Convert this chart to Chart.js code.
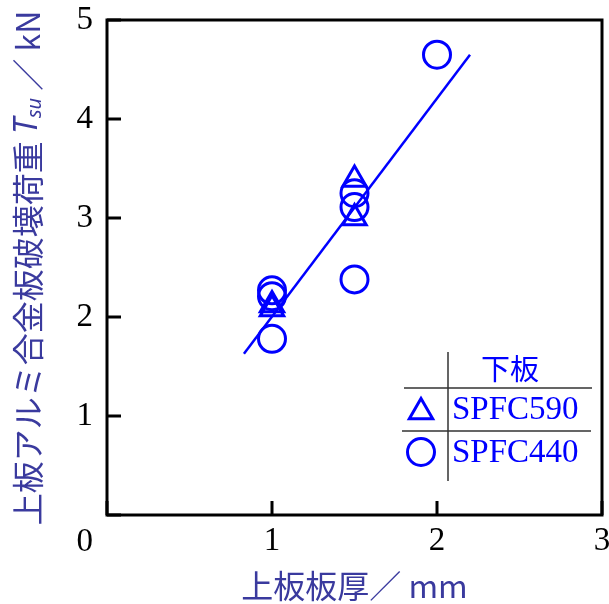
<!DOCTYPE html>
<html><head><meta charset="utf-8">
<script src="https://cdn.jsdelivr.net/npm/chart.js@4/dist/chart.umd.min.js"></script>
<style>html,body{margin:0;padding:0;background:#fff;}#wrap{width:609px;height:604px;}</style>
</head><body><div id="wrap"><canvas id="c" width="609" height="604"></canvas></div>
<script>
// ---- data ----
const xTickValues = [0, 1, 2, 3];
const yTickValues = [0, 1, 2, 3, 4, 5];
const seriesNames = ['SPFC590', 'SPFC440'];
const legendHeader = '下板';
const thick590 = [1, 1, 1.5, 1.5];
const tsu590 = [2.12, 2.08, 3.39, 3.00];
const thick440 = [1, 1, 1, 1.5, 1.5, 1.5, 2];
const tsu440 = [2.27, 2.21, 1.78, 3.25, 3.11, 2.38, 4.65];
const fitX = [0.83, 2.2];
const fitY = [1.63, 4.65];
const xTitle = ['上板板厚', '／ mm'];
const yTitleParts = ['上板アルミ合金板破壊荷重 ', 'T', 'su', ' ／ kN'];

const BLUE = '#0000ff';
const TITLE_COLOR = '#3a3a9e';
const SERIF = '"Liberation Serif", "Times New Roman", serif';
const CJK = '"Noto Sans CJK JP", "Noto Sans", sans-serif';

const pts = (xs, ys) => xs.map((x, i) => ({x, y: ys[i]}));

const decor = {
  id: 'decor',
  afterDraw(chart) {
    const ctx = chart.ctx, a = chart.chartArea;
    const xs = chart.scales.x, ys = chart.scales.y;
    ctx.save();
    // frame
    ctx.strokeStyle = '#000'; ctx.lineWidth = 3;
    ctx.strokeRect(a.left, a.top, a.right - a.left, a.bottom - a.top);
    // inward ticks
    ctx.beginPath();
    yTickValues.forEach(v => { const p = ys.getPixelForValue(v); ctx.moveTo(a.left, p); ctx.lineTo(a.left + 14, p); });
    xTickValues.forEach(v => { const p = xs.getPixelForValue(v); ctx.moveTo(p, a.bottom); ctx.lineTo(p, a.bottom - 14); });
    ctx.stroke();
    // corner zero
    ctx.fillStyle = '#000';
    ctx.font = '33px ' + SERIF;
    ctx.textAlign = 'right'; ctx.textBaseline = 'middle';
    ctx.fillText('0', xs.getPixelForValue(0) - 14, ys.getPixelForValue(0) + 27);

    // x title
    ctx.fillStyle = TITLE_COLOR;
    ctx.font = '32px ' + CJK;
    ctx.textAlign = 'center'; ctx.textBaseline = 'middle';
    ctx.fillText(xTitle.join(''), (a.left + a.right) / 2, 586);

    // y title (rotated, with italic subscript)
    const segs = [
      {t: yTitleParts[0], f: '32px ' + CJK, dy: 0},
      {t: yTitleParts[1], f: 'italic 32px "Noto Sans", sans-serif', dy: 0},
      {t: yTitleParts[2], f: 'italic 20px "Noto Sans", sans-serif', dy: 7},
      {t: yTitleParts[3], f: '32px ' + CJK, dy: 0}
    ];
    let total = 0;
    segs.forEach(s => { ctx.font = s.f; s.w = ctx.measureText(s.t).width; total += s.w; });
    ctx.translate(28, 268);
    ctx.rotate(-Math.PI / 2);
    ctx.textAlign = 'left';
    let cx = -total / 2;
    segs.forEach(s => { ctx.font = s.f; ctx.fillText(s.t, cx, s.dy); cx += s.w; });
    ctx.restore();

    // legend table
    ctx.save();
    ctx.strokeStyle = '#333'; ctx.lineWidth = 1.5;
    ctx.beginPath();
    ctx.moveTo(448, 352); ctx.lineTo(448, 481);
    ctx.moveTo(404, 388); ctx.lineTo(592, 388);
    ctx.moveTo(402, 431); ctx.lineTo(591, 431);
    ctx.stroke();
    ctx.fillStyle = BLUE;
    ctx.font = '29px ' + CJK;
    ctx.textAlign = 'center'; ctx.textBaseline = 'middle';
    ctx.fillText(legendHeader, 510, 369);
    ctx.font = '33px ' + SERIF;
    ctx.textAlign = 'left';
    ctx.fillText(seriesNames[0], 452, 410);
    ctx.fillText(seriesNames[1], 452, 453);
    ctx.strokeStyle = BLUE; ctx.lineWidth = 3;
    ctx.fillStyle = 'rgba(0,0,0,0)';
    Chart.helpers.drawPoint(ctx, {pointStyle: 'triangle', radius: 13.5, borderWidth: 3}, 421, 412);
    Chart.helpers.drawPoint(ctx, {pointStyle: 'circle', radius: 13.5, borderWidth: 3}, 421, 452);
    ctx.restore();
  }
};

new Chart(document.getElementById('c').getContext('2d'), {
  type: 'scatter',
  data: {
    datasets: [
      {label: 'fit', type: 'line', data: pts(fitX, fitY), borderColor: BLUE, borderWidth: 2.5,
       pointRadius: 0, fill: false, showLine: true, tension: 0},
      {label: seriesNames[0], data: pts(thick590, tsu590), pointStyle: 'triangle', pointRadius: 13.5,
       pointBorderWidth: 3, borderColor: BLUE, pointBorderColor: BLUE, backgroundColor: 'rgba(0,0,0,0)', pointBackgroundColor: 'rgba(0,0,0,0)'},
      {label: seriesNames[1], data: pts(thick440, tsu440), pointStyle: 'circle', pointRadius: 13.5,
       pointBorderWidth: 3, borderColor: BLUE, pointBorderColor: BLUE, backgroundColor: 'rgba(0,0,0,0)', pointBackgroundColor: 'rgba(0,0,0,0)'}
    ]
  },
  options: {
    responsive: false, animation: false, devicePixelRatio: 1,
    layout: {autoPadding: false, padding: {top: 20, right: 7, left: 0, bottom: 0}},
    plugins: {legend: {display: false}, tooltip: {enabled: false}},
    scales: {
      x: {
        type: 'linear', min: 0, max: 3,
        afterBuildTicks(s) { s.ticks = xTickValues.map(v => ({value: v})); },
        ticks: {font: {family: SERIF, size: 33}, color: '#000', padding: 7, maxRotation: 0, autoSkip: false,
                callback: v => v === 0 ? '' : String(v)},
        grid: {display: false, drawTicks: false}, border: {display: false},
        afterFit(s) { s.height = 89; s.paddingLeft = 0; s.paddingRight = 0; }
      },
      y: {
        type: 'linear', min: 0, max: 5,
        afterBuildTicks(s) { s.ticks = yTickValues.map(v => ({value: v})); },
        ticks: {font: {family: SERIF, size: 33}, color: '#000', padding: 14, autoSkip: false,
                callback: v => v === 0 ? '' : String(v)},
        grid: {display: false, drawTicks: false}, border: {display: false},
        afterFit(s) { s.width = 107; s.paddingTop = 0; s.paddingBottom = 0; }
      }
    }
  },
  plugins: [decor]
});
</script></body></html>
